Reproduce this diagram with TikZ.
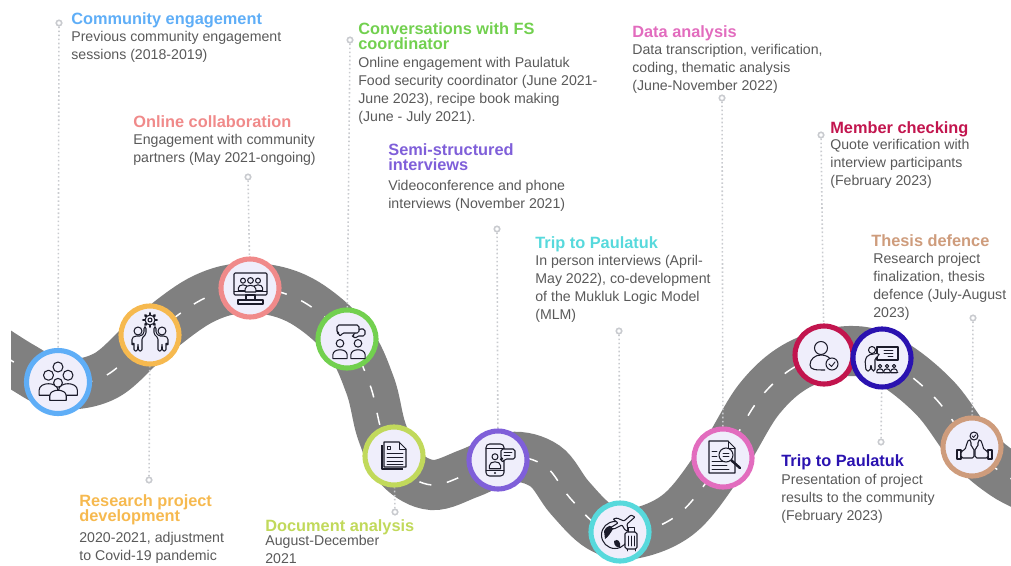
\documentclass[tikz,border=0pt]{standalone}
\usepackage{fontspec}
\setmainfont{Liberation Sans}
\usepackage{tikz}
\usetikzlibrary{calc}

\definecolor{roadgrey}{HTML}{808080}
\definecolor{leadgrey}{HTML}{C9CBCF}
\definecolor{bodygrey}{HTML}{595959}
\definecolor{iconink}{HTML}{1B1B2A}
\definecolor{iconbg}{HTML}{EFEEFB}
\definecolor{cblue}{HTML}{5FAEF7}
\definecolor{corange}{HTML}{F6B94F}
\definecolor{csalmon}{HTML}{F08A8A}
\definecolor{cgreen}{HTML}{72D04F}
\definecolor{clime}{HTML}{C1D95B}
\definecolor{cpurple}{HTML}{7F5FD9}
\definecolor{ccyan}{HTML}{57D9DC}
\definecolor{cpink}{HTML}{E26CBE}
\definecolor{ccrimson}{HTML}{C2154E}
\definecolor{cindigo}{HTML}{2A12B0}
\definecolor{ctan}{HTML}{CE9C7C}

\newcommand{\roadline}{plot[smooth, tension=0.6] coordinates {(-20,340) (22,367) (58,384) (105,376) (150,337) (203,299) (250,288) (300,300) (347,339) (370,385) (382,432) (400,468) (432,485) (470,473) (510,457) (545,466) (570,498) (600,527) (632,534) (680,513) (723,458) (760,398) (800,364) (850,351) (890,362) (935,398) (972,447) (1005,475) (1035,490)}}

\tikzset{
    milestone/.style={circle, fill=iconbg, line width=2.9pt, minimum size=1.16cm, inner sep=0pt},
    stopdot/.style={circle, draw=leadgrey, fill=white, line width=0.9pt, minimum size=0.11cm, inner sep=0pt},
    leader/.style={draw=leadgrey, line width=0.9pt, dash pattern=on 0.9pt off 1.4pt},
    headline/.style={anchor=north west, inner sep=0pt, align=left, font=\fontsize{9.3}{8.9}\selectfont\bfseries},
    bodytext/.style={anchor=north west, inner sep=0pt, align=left, text=bodygrey, font=\fontsize{8.05}{10.2}\selectfont},
    iconline/.style={draw=iconink, fill=iconbg, line width=0.6pt, line join=round},
    iconstroke/.style={draw=iconink, line width=0.5pt, line join=round, line cap=round},
    personicon/.pic={
        \draw[iconline] (-7.5,9) -- (-7.5,5) .. controls (-7.5,-2) and (7.5,-2) .. (7.5,5) -- (7.5,9) -- cycle;
        \draw[iconline] (0,-7) circle (4);
    },
    crowdicon/.pic={
        \draw[iconline] (0,-15) circle (5);
        \pic[scale=1.25] at (-9.5,2) {personicon};
        \pic[scale=1.25] at (10,2) {personicon};
        \pic[scale=1.1] at (0,8.5) {personicon};
    },
    teamicon/.pic={
        \foreach \s/\o in {1/0,-1/0}{
            \begin{scope}[xscale=\s]
                \draw[iconline, rounded corners=0.8pt] (-4,-8) -- (-4,-1) -- (-8,3) -- (-8,16) -- (-11.5,16) -- (-12,8) -- (-12.5,16) -- (-16,16) -- (-16,7) -- (-18,11) -- (-18,3) -- (-15,1) -- (-9,1) -- (-6,-2) -- (-6,-8) -- cycle;
                \draw[iconline] (-12,-4) circle (4);
            \end{scope}
        }
        \foreach \a in {0,45,...,315}{
            \draw[iconstroke, line width=1.5pt] (0,-15) ++(\a:5) -- ++(\a:1.8);
        }
        \draw[iconline] (0,-15) circle (5);
        \draw[iconline] (0,-15) circle (2);
    },
    screenicon/.pic={
        \draw[iconline, rounded corners=0.6pt] (-16,-15) rectangle (17,7);
        \draw[iconstroke] (-16,3) -- (17,3);
        \draw[iconline] (-4,7) rectangle (5,12);
        \draw[iconline] (-12,12) rectangle (13,16);
        \pic[scale=0.62] at (-7,-3) {personicon};
        \pic[scale=0.62] at (8,-3) {personicon};
        \pic[scale=0.72] at (0.5,-2.5) {personicon};
    },
    talkicon/.pic={
        \pic[scale=0.95] at (-7,11) {personicon};
        \pic[scale=0.95] at (11,11) {personicon};
        \draw[iconline, rounded corners=1pt] (12,-10) -- (18,-10) -- (18,-3) -- (10,-3) -- (8,0) -- (7,-3) -- (5,-3) -- cycle;
        \draw[iconline, rounded corners=1pt] (-10,-14) -- (12,-14) -- (12,-6) -- (-5,-6) -- (-7,-2) -- (-8,-6) -- (-10,-6) -- cycle;
    },
    pagesicon/.pic={
        \draw[iconline] (-12,-11) -- (-12,13) -- (9,13);
        \draw[iconline] (-10,-14) -- (5,-14) -- (12,-7) -- (12,11) -- (-10,11) -- cycle;
        \draw[iconstroke] (5,-14) -- (5,-7) -- (12,-7);
        \draw[iconstroke] (-7,-10) rectangle (-4,-7);
        \foreach \y in {-3,1,5,8}{
            \draw[iconstroke] (-7,\y) -- (9,\y);
        }
    },
    callicon/.pic={
        \draw[iconline, rounded corners=2pt] (-12,-16) rectangle (6,16);
        \draw[iconstroke] (-12,-12) -- (6,-12);
        \draw[iconstroke] (-12,10) -- (6,10);
        \fill[iconink] (-3,13) circle (1.2);
        \pic[scale=0.75] at (-3,2) {personicon};
        \draw[iconline, rounded corners=1pt] (3,-11) -- (17,-11) -- (17,-1) -- (7,-1) -- (4,3) -- (4,-1) -- (3,-1) -- cycle;
        \draw[iconstroke] (6,-8) -- (14,-8);
        \draw[iconstroke] (6,-5) -- (12,-5);
    },
    travelicon/.pic={
        \draw[iconline] (-5,3) circle (13.5);
        \fill[iconink] (-16,-1) .. controls (-12,-8) and (-8,-7) .. (-7,-3) .. controls (-10,2) and (-12,5) .. (-15,7) -- cycle;
        \fill[iconink] (-6,9) .. controls (-2,6) and (1,10) .. (0,15) .. controls (-3,16) and (-6,14) .. (-6,9) -- cycle;
        \draw[iconline, rounded corners=0.5pt] (15,-15) -- (7,-8) -- (8,-1) -- (5,-2) -- (2,-7) -- (-6,-3) -- (-10,-4) -- (-2,-9) -- (-7,-13) -- (-3,-14) -- (4,-11) -- (11,-17) -- cycle;
        \draw[iconline, rounded corners=1pt] (5,0) rectangle (17,17);
        \draw[iconstroke] (8,0) -- (8,-5) -- (14,-5) -- (14,0);
        \foreach \x in {8,11,14}{
            \draw[iconstroke] (\x,4) -- (\x,14);
        }
        \draw[iconstroke] (7,17) -- (7,19);
        \draw[iconstroke] (15,17) -- (15,19);
    },
    reviewicon/.pic={
        \draw[iconline] (-14,-17) -- (5,-17) -- (12,-10) -- (12,15) -- (-14,15) -- cycle;
        \draw[iconstroke] (5,-17) -- (5,-10) -- (12,-10);
        \foreach \y/\e in {-7/-6,-2/-6,3/2,7/4,11/6}{
            \draw[iconstroke] (-11,\y) -- (\e,\y);
        }
        \draw[iconstroke, line width=1.4pt] (8,2) -- (17,10);
        \draw[iconline] (3,-3) circle (7);
        \draw[iconstroke] (0,-5) -- (6,-5);
        \draw[iconstroke] (0,-2) -- (6,-2);
    },
    checkicon/.pic={
        \draw[iconline] (1,15) .. controls (-8,15) and (-14,15) .. (-14,10) .. controls (-14,4) and (-9,0) .. (-3,0) .. controls (2,0) and (6,2) .. (7,6);
        \draw[iconline] (-3,-7) circle (6.5);
        \draw[iconline] (8,9) circle (6);
        \draw[iconstroke] (5,9) -- (7.5,11.5) -- (11,7);
    },
    lessonicon/.pic={
        \draw[iconline] (-5,-11) rectangle (16,2);
        \foreach \y/\s in {-8/2,-5/2,-2/6}{
            \draw[iconstroke] (\s,\y) -- (11,\y);
        }
        \draw[iconline, rounded corners=1pt] (-3,-5) -- (-3,-2) -- (-7,0) -- (-7,13) -- (-10,13) -- (-11,6) -- (-12,13) -- (-16,13) -- (-17,2) -- (-14,-3) -- (-8,-4) -- cycle;
        \draw[iconline] (-10,-8) circle (3.5);
        \foreach \x in {-2,5,12}{
            \pic[scale=0.42] at (\x,11) {personicon};
        }
        \draw[iconstroke] (-5,14) -- (16,14);
    },
    agreeicon/.pic={
        \foreach \s/\o in {1/0,-1/5}{
            \begin{scope}[shift={(\o,0)}, xscale=\s]
                \draw[iconline] (-15,3) rectangle (-11,12);
                \draw[iconline, rounded corners=1pt] (-11,4) -- (-7,3) -- (-5,-4) -- (-3,-8) -- (-1,-6) -- (-1,0) -- (2,1) -- (2,11) -- (-11,11) -- cycle;
            \end{scope}
        }
        \draw[iconline] (2,-11) circle (4);
        \draw[iconstroke] (0.2,-11) -- (1.6,-9.6) -- (3.8,-12.2);
    },
}

\begin{document}
\begin{tikzpicture}[x=0.02cm, y=-0.02cm]
        \useasboundingbox (0,0) rectangle (1011,565);

        \begin{scope}
            \clip (11,0) rectangle (1011,565);
            \draw[roadgrey, line width=28.5pt] \roadline;
            \draw[white, line width=0.85pt, dash pattern=on 7pt off 9pt] \roadline;
        \end{scope}

        \node[milestone, draw=cblue, minimum size=1.26cm] (m1) at (58,382) {};
        \node[milestone, draw=corange] (m2) at (150,335) {};
        \node[milestone, draw=csalmon] (m3) at (250,288) {};
        \node[milestone, draw=cgreen] (m4) at (347,339) {};
        \node[milestone, draw=clime] (m5) at (394,456) {};
        \node[milestone, draw=cpurple] (m6) at (498,460) {};
        \node[milestone, draw=ccyan] (m7) at (620,532) {};
        \node[milestone, draw=cpink] (m8) at (723,458) {};
        \node[milestone, draw=ccrimson] (m9) at (824,355) {};
        \node[milestone, draw=cindigo] (m10) at (882,358) {};
        \node[milestone, draw=ctan] (m11) at (972,447) {};

        \pic at (m1) {crowdicon};
        \pic at (m2) {teamicon};
        \pic at (m3) {screenicon};
        \pic at (m4) {talkicon};
        \pic at (m5) {pagesicon};
        \pic at (m6) {callicon};
        \pic at (m7) {travelicon};
        \pic at (m8) {reviewicon};
        \pic at (m9) {checkicon};
        \pic at (m10) {lessonicon};
        \pic at (m11) {agreeicon};

        \node[stopdot] (s1) at (59,23) {};
        \node[stopdot] (s2) at (149,480) {};
        \node[stopdot] (s3) at (248,177) {};
        \node[stopdot] (s4) at (350,40) {};
        \node[stopdot] (s5) at (395,512) {};
        \node[stopdot] (s6) at (497,229) {};
        \node[stopdot] (s7) at (619,331) {};
        \node[stopdot] (s8) at (722,98) {};
        \node[stopdot] (s9) at (821,135) {};
        \node[stopdot] (s10) at (881,442) {};
        \node[stopdot] (s11) at (973,318) {};

        \draw[leader] (s1) -- (m1);
        \draw[leader] (s2) -- (m2);
        \draw[leader] (s3) -- (m3);
        \draw[leader] (s4) -- (m4);
        \draw[leader] (s5) -- (m5);
        \draw[leader] (s6) -- (m6);
        \draw[leader] (s7) -- (m7);
        \draw[leader] (s8) -- (m8);
        \draw[leader] (s9) -- (m9);
        \draw[leader] (s10) -- (m10);
        \draw[leader] (s11) -- (m11);

        \node[headline, text=cblue] (t1) at (71,12) {Community engagement};
        \node[bodytext] (b1) at (71,31) {Previous community engagement\\sessions (2018-2019)};

        \node[headline, text=corange] (t2) at (79,494) {Research project\\development};
        \node[bodytext] (b2) at (79,532) {2020-2021, adjustment\\to Covid-19 pandemic};

        \node[headline, text=csalmon] (t3) at (133,115) {Online collaboration};
        \node[bodytext] (b3) at (133,134) {Engagement with community\\partners (May 2021-ongoing)};

        \node[headline, text=cgreen] (t4) at (358,22) {Conversations with FS\\coordinator};
        \node[bodytext] (b4) at (358,57) {Online engagement with Paulatuk\\Food security coordinator (June 2021-\\June 2023), recipe book making\\(June - July 2021).};

        \node[headline, text=clime] (t5) at (265,519) {Document analysis};
        \node[bodytext] (b5) at (265,535) {August-December\\2021};

        \node[headline, text=cpurple] (t6) at (388,143) {Semi-structured\\interviews};
        \node[bodytext] (b6) at (388,180) {Videoconference and phone\\interviews (November 2021)};

        \node[headline, text=ccyan] (t7) at (535,236) {Trip to Paulatuk};
        \node[bodytext] (b7) at (535,255) {In person interviews (April-\\May 2022), co-development\\of the Mukluk Logic Model\\(MLM)};

        \node[headline, text=cpink] (t8) at (632,25) {Data analysis};
        \node[bodytext] (b8) at (632,44) {Data transcription, verification,\\coding, thematic analysis\\(June-November 2022)};

        \node[headline, text=ccrimson] (t9) at (830,121) {Member checking};
        \node[bodytext] (b9) at (830,139) {Quote verification with\\interview participants\\(February 2023)};

        \node[headline, text=cindigo] (t10) at (781,454) {Trip to Paulatuk};
        \node[bodytext] (b10) at (781,474) {Presentation of project\\results to the community\\(February 2023)};

        \node[headline, text=ctan] (t11) at (871,234) {Thesis defence};
        \node[bodytext] (b11) at (873,253) {Research project\\finalization, thesis\\defence (July-August\\2023)};
    \end{tikzpicture}
\end{document}
